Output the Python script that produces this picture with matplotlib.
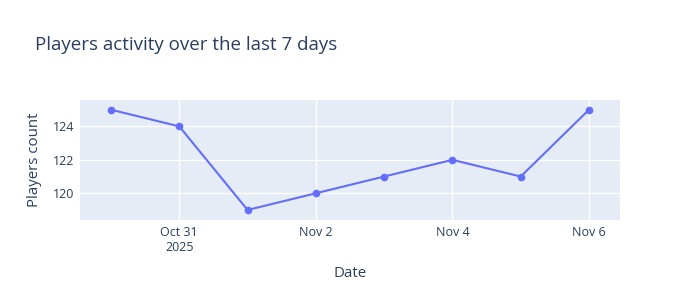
import numpy as np
import pandas as pd
import matplotlib
matplotlib.use("Agg")
import matplotlib.pyplot as plt
import matplotlib.dates as mdates

# Datos del gráfico
dates = pd.to_datetime(["2025-10-30", "2025-10-31", "2025-11-01", "2025-11-02",
                        "2025-11-03", "2025-11-04", "2025-11-05", "2025-11-06"])
players = [125, 124, 119, 120, 121, 122, 121, 125]
xtick_dates = pd.to_datetime(["2025-10-31", "2025-11-02", "2025-11-04", "2025-11-06"])
xtick_labels = ["Oct 31\n2025", "Nov 2", "Nov 4", "Nov 6"]
yticks = [120, 122, 124]

text_color = "#2a3f5f"
plt.rcParams['font.family'] = ['Open Sans', 'DejaVu Sans']

fig = plt.figure(figsize=(7, 3), dpi=100)
ax = fig.add_axes([80 / 700, 80 / 300, 540 / 700, 120 / 300])
ax.set_facecolor("#E5ECF6")

ax.plot(dates, players, color="#636efa", linewidth=1.5, marker="o", markersize=4.5, zorder=3)

# Límites del eje
ax.set_xlim(dates[0] - pd.Timedelta(hours=10.9), dates[-1] + pd.Timedelta(hours=10.9))
ax.set_ylim(118.4, 125.58)

ax.set_xticks(xtick_dates)
ax.set_xticklabels(xtick_labels, color=text_color, fontsize=9)
ax.set_yticks(yticks)
ax.set_yticklabels([str(v) for v in yticks], color=text_color, fontsize=9)
ax.tick_params(length=0, pad=4)

ax.grid(True, color="white", linewidth=1)
ax.set_axisbelow(True)
for s in ax.spines.values():
    s.set_visible(False)

ax.set_xlabel("Date", color=text_color, fontsize=10.8, labelpad=9)
ax.set_ylabel("Players count", color=text_color, fontsize=10.8, labelpad=8)

fig.text(35 / 700, 1 - 45 / 300, "Players activity over the last 7 days",
         color=text_color, fontsize=13.5, va="center", ha="left")

fig.savefig("out.png", dpi=100, facecolor="white")
